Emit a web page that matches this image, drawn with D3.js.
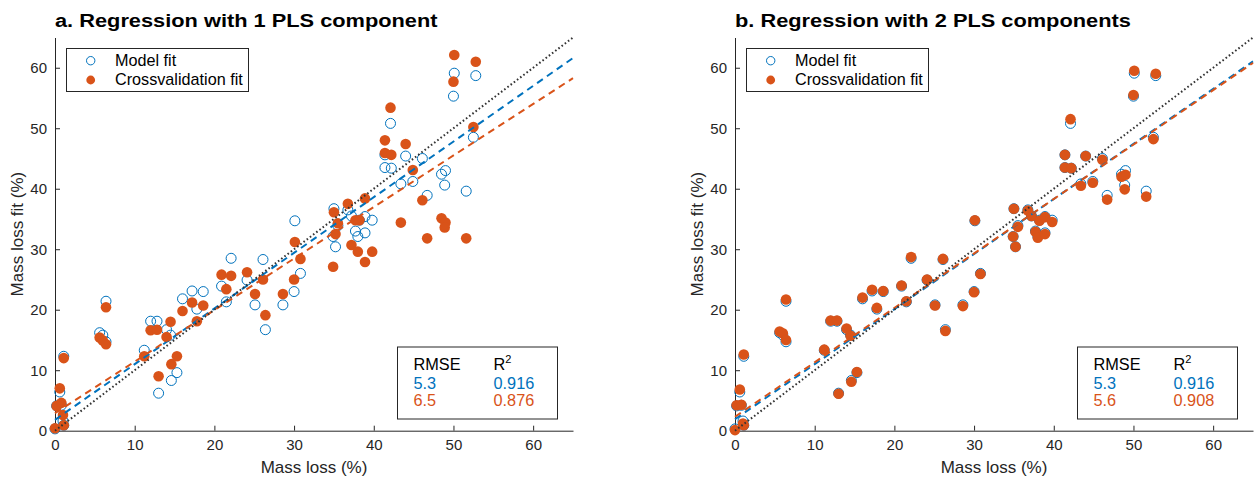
<!DOCTYPE html>
<html>
<head>
<meta charset="utf-8">
<script src="https://cdn.jsdelivr.net/npm/d3@7"></script>
<style>
  html, body { margin: 0; padding: 0; background: #fff; }
  svg { display: block; font-family: "Liberation Sans", Arial, sans-serif; }
</style>
</head>
<body>
<svg id="chart" width="1255" height="480"></svg>
<script>
// ---- data ----
const massLoss = [0.0, 0.2, 0.8, 0.6, 1.1, 1.0, 1.1, 6.4, 5.6, 6.0, 6.4, 11.2, 12.0, 12.8, 13.0, 14.0, 14.5, 14.6, 15.3, 16.0,
  17.2, 17.8, 18.6, 20.9, 21.5, 22.1, 24.1, 25.1, 26.1, 26.4, 28.6, 30.0, 30.1, 30.8, 34.9, 35.0, 35.2, 35.5, 36.75, 37.2,
  37.7, 38.0, 38.2, 38.9, 38.9, 39.8, 50.1, 52.8, 50.0, 42.1, 41.4, 41.4, 42.2, 44.0, 46.1, 52.5, 43.4, 44.9, 48.5, 49.0,
  48.9, 46.7, 51.6];
const modelFit = [0.3, 4.1, 4.2, 6.4, 0.9, 1.6, 12.3, 21.4, 16.2, 15.8, 14.7, 13.3, 18.1, 18.1, 6.2, 16.7, 15.8, 8.3, 9.6, 21.8,
  23.1, 20.1, 23.0, 23.9, 21.3, 28.5, 24.9, 20.8, 28.3, 16.7, 20.8, 23.0, 34.7, 26.0, 32.1, 36.7, 30.4, 33.9, 36.5, 35.5,
  33.0, 32.1, 34.8, 35.4, 32.7, 34.8, 59.1, 58.7, 55.3, 50.8, 45.6, 43.5, 43.4, 45.4, 45.0, 48.5, 40.8, 41.2, 42.4, 43.0,
  40.6, 38.9, 39.6];
const cvFit1 = [0.4, 4.1, 4.6, 7.0, 0.9, 2.6, 12.0, 20.4, 15.4, 14.9, 14.3, 12.3, 16.6, 16.7, 9.0, 15.5, 18.0, 11.0, 12.3, 19.8,
  21.2, 18.1, 20.7, 25.8, 23.4, 25.6, 26.2, 22.6, 25.0, 19.1, 22.6, 25.0, 31.2, 28.4, 27.1, 36.1, 32.5, 34.3, 37.5, 30.7,
  34.8, 29.6, 34.8, 38.4, 27.9, 29.6, 62.1, 61.0, 57.7, 53.4, 48.0, 45.9, 45.6, 47.4, 38.1, 50.2, 34.4, 43.1, 35.1, 34.4,
  33.6, 31.8, 31.8];
const cvFit2 = [0.1, 4.2, 4.3, 6.8, 0.9, 1.2, 12.6, 21.7, 16.4, 16.1, 15.0, 13.4, 18.2, 18.2, 6.1, 16.9, 15.7, 8.1, 9.7, 22.0,
  23.3, 20.3, 23.1, 24.0, 21.4, 28.7, 25.0, 20.7, 28.4, 16.5, 20.6, 22.9, 34.8, 25.9, 32.1, 36.7, 30.4, 33.7, 36.4, 35.5,
  32.9, 31.9, 34.7, 35.3, 32.5, 34.5, 59.5, 59.0, 55.5, 51.5, 45.6, 43.5, 43.4, 45.4, 44.8, 48.2, 40.5, 41.0, 42.0, 42.3,
  39.9, 38.2, 38.7];

// regression lines: [intercept, slope] for model fit and crossvalidation fit
const fitLine1 = [[1.8, 0.920], [2.9, 0.852]];
const fitLine2 = [[1.9, 0.910], [2.3, 0.900]];

const titles = ["a. Regression with 1 PLS component", "b. Regression with 2 PLS components"];
const legendLabels = ["Model fit", "Crossvalidation fit"];
const statHeaders = ["RMSE", "R"];
const rmse1 = ["5.3", "6.5"], r2_1 = ["0.916", "0.876"];
const rmse2 = ["5.3", "5.6"], r2_2 = ["0.916", "0.908"];
const tickValues = [0, 10, 20, 30, 40, 50, 60];
const axisDomain = [0, 65];

// ---- drawing ----
const BLUE = "#0072BD", ORANGE = "#D95319", AXIS = "#262626";
const svg = d3.select("#chart");

function panel(x0, title, cv, lines, rmse, r2) {
  const top = 37.5, bottom = 430.7, width = 518;
  const x = d3.scaleLinear().domain(axisDomain).range([x0, x0 + width]);
  const y = d3.scaleLinear().domain(axisDomain).range([bottom, top]);
  const g = svg.append("g");

  // axes
  const xAxis = g.append("g").attr("transform", `translate(0,${bottom})`)
    .call(d3.axisBottom(x).tickValues(tickValues).tickSizeInner(-5).tickSizeOuter(0).tickPadding(9));
  const yAxis = g.append("g").attr("transform", `translate(${x0},0)`)
    .call(d3.axisLeft(y).tickValues(tickValues).tickSizeInner(-5).tickSizeOuter(0).tickPadding(8));
  [xAxis, yAxis].forEach(a => {
    a.select(".domain").attr("stroke", AXIS).attr("stroke-width", 1);
    a.selectAll(".tick line").attr("stroke", AXIS);
    a.selectAll(".tick text").attr("fill", AXIS).style("font-size", "15px")
      .style("font-family", '"Liberation Sans", Arial, sans-serif');
  });
  yAxis.selectAll(".tick text").attr("dy", "0.35em");

  // labels
  g.append("text").attr("x", x0 + width / 2).attr("y", 473).attr("text-anchor", "middle")
    .attr("fill", AXIS).style("font-size", "17px").text("Mass loss (%)");
  g.append("text").attr("transform", `translate(${x0 - 32},${(top + bottom) / 2}) rotate(-90)`)
    .attr("text-anchor", "middle").attr("fill", AXIS).style("font-size", "17px").text("Mass loss fit (%)");
  const tt = g.append("text").attr("x", x0).attr("y", 27.3).attr("fill", "#000")
    .style("font-size", "18.8px").style("font-weight", "bold").text(title);
  const natural = tt.node().getComputedTextLength();
  tt.attr("textLength", natural * 1.16).attr("lengthAdjust", "spacingAndGlyphs");

  // markers
  g.append("g").selectAll("circle").data(massLoss).join("circle")
    .attr("cx", d => x(d)).attr("cy", (d, i) => y(modelFit[i])).attr("r", 5)
    .attr("fill", "none").attr("stroke", BLUE).attr("stroke-width", 1);
  g.append("g").selectAll("circle").data(massLoss).join("circle")
    .attr("cx", d => x(d)).attr("cy", (d, i) => y(cv[i])).attr("r", 5.3)
    .attr("fill", ORANGE);

  // regression lines
  const lineGen = d3.line().x(d => x(d[0])).y(d => y(d[1]));
  [BLUE, ORANGE].forEach((c, k) => {
    const [b, m] = lines[k];
    g.append("path").datum(axisDomain.map(v => [v, b + m * v])).attr("d", lineGen)
      .attr("fill", "none").attr("stroke", c).attr("stroke-width", 2).attr("stroke-dasharray", "7,5");
  });
  g.append("path").datum(axisDomain.map(v => [v, v])).attr("d", lineGen)
    .attr("fill", "none").attr("stroke", "#333").attr("stroke-width", 2).attr("stroke-dasharray", "1.6,2.4");

  // legend
  const lg = g.append("g");
  lg.append("rect").attr("x", x0 + 11.5).attr("y", 48.5).attr("width", 182).attr("height", 43)
    .attr("fill", "#fff").attr("stroke", AXIS).attr("stroke-width", 1);
  lg.append("circle").attr("cx", x0 + 35.7).attr("cy", 60.7).attr("r", 4.2)
    .attr("fill", "none").attr("stroke", BLUE).attr("stroke-width", 1);
  lg.append("circle").attr("cx", x0 + 35.7).attr("cy", 80).attr("r", 4.4).attr("fill", ORANGE);
  legendLabels.forEach((t, i) => {
    lg.append("text").attr("x", x0 + 60).attr("y", 66 + i * 19.3).attr("fill", "#000")
      .style("font-size", "16.2px").text(t);
  });

  // stats box
  const bx = x0 + 342.5, by = 347;
  const sg = g.append("g");
  sg.append("rect").attr("x", bx).attr("y", by).attr("width", 160).attr("height", 72)
    .attr("fill", "#fff").attr("stroke", AXIS).attr("stroke-width", 1);
  sg.append("text").attr("x", bx + 16).attr("y", 370).attr("fill", "#000").style("font-size", "16.3px").text(statHeaders[0]);
  const rt = sg.append("text").attr("x", bx + 96).attr("y", 370).attr("fill", "#000").style("font-size", "16.3px");
  rt.append("tspan").text(statHeaders[1]);
  rt.append("tspan").attr("dy", -7).style("font-size", "11px").text("2");
  [BLUE, ORANGE].forEach((c, i) => {
    sg.append("text").attr("x", bx + 16).attr("y", 388.5 + i * 17.7).attr("fill", c).style("font-size", "16.3px").text(rmse[i]);
    sg.append("text").attr("x", bx + 96).attr("y", 388.5 + i * 17.7).attr("fill", c).style("font-size", "16.3px").text(r2[i]);
  });
}

panel(55, titles[0], cvFit1, fitLine1, rmse1, r2_1);
panel(735, titles[1], cvFit2, fitLine2, rmse2, r2_2);
</script>
</body>
</html>
